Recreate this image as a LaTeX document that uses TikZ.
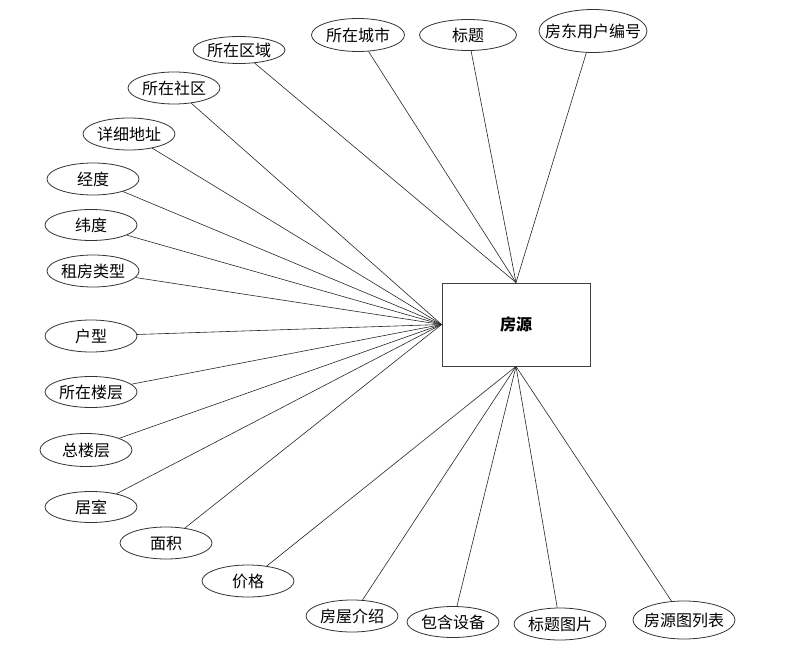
\documentclass[tikz,border=0pt]{standalone}
\usepackage{fontspec}
\newfontfamily\cjk{Noto Sans CJK SC}
\usetikzlibrary{shapes.geometric}

\begin{document}
\begin{tikzpicture}[x=1pt,y=-1pt,font=\cjk\fontsize{16}{18}\selectfont,
  attr/.style={ellipse,draw=black!80,line width=0.8pt,inner sep=0pt,minimum width=92pt,minimum height=32pt,
    execute at begin node={\hbox to 0pt\bgroup\hss},execute at end node={\hss\egroup}},
  entity/.style={draw=black!75,line width=0.9pt,minimum width=148pt,minimum height=83pt,font=\cjk\bfseries\fontsize{16}{18}\selectfont},
  link/.style={line width=0.6pt,black!85}]
\useasboundingbox (0,0) rectangle (811,655);
% entity
\node[entity] (fy) at (516,324.5) {房源};
% attributes, top
\node[attr,minimum height=27pt] (qy) at (239,50) {所在区域};
\node[attr,minimum width=93pt,minimum height=33pt] (cs) at (358,35) {所在城市};
\node[attr,minimum width=97pt,minimum height=31pt] (bt) at (468,35) {标题};
\node[attr,minimum width=108pt,minimum height=43pt] (fd) at (593,31) {房东用户编号};
% attributes, left
\node[attr] (sq) at (174,88) {所在社区};
\node[attr] (dz) at (129,134) {详细地址};
\node[attr] (jd) at (93,179) {经度};
\node[attr,minimum height=31pt] (wd) at (91,225) {纬度};
\node[attr] (lx) at (93,271) {租房类型};
\node[attr] (hx) at (91,336) {户型};
\node[attr,minimum height=31pt] (lc) at (91,392) {所在楼层};
\node[attr,minimum height=33pt] (zl) at (86,450) {总楼层};
\node[attr,minimum height=31pt] (js) at (91,507) {居室};
\node[attr] (mj) at (166,543) {面积};
% attributes, bottom
\node[attr] (jg) at (248,581) {价格};
\node[attr] (js2) at (352,616) {房屋介绍};
\node[attr,minimum height=31pt] (sb) at (453,622) {包含设备};
\node[attr] (tp) at (560,624) {标题图片};
\node[attr,minimum width=102pt,minimum height=38pt] (lb) at (684,620) {房源图列表};
% links
\draw[link] (qy) -- (fy.north);
\draw[link] (cs) -- (fy.north);
\draw[link] (bt) -- (fy.north);
\draw[link] (fd) -- (fy.north);
\draw[link] (sq) -- (fy.west);
\draw[link] (dz) -- (fy.west);
\draw[link] (jd) -- (fy.west);
\draw[link] (wd) -- (fy.west);
\draw[link] (lx) -- (fy.west);
\draw[link] (hx) -- (fy.west);
\draw[link] (lc) -- (fy.west);
\draw[link] (zl) -- (fy.west);
\draw[link] (js) -- (fy.west);
\draw[link] (mj) -- (fy.west);
\draw[link] (jg) -- (fy.south);
\draw[link] (js2) -- (fy.south);
\draw[link] (sb) -- (fy.south);
\draw[link] (tp) -- (fy.south);
\draw[link] (lb) -- (fy.south);
\end{tikzpicture}
\end{document}
